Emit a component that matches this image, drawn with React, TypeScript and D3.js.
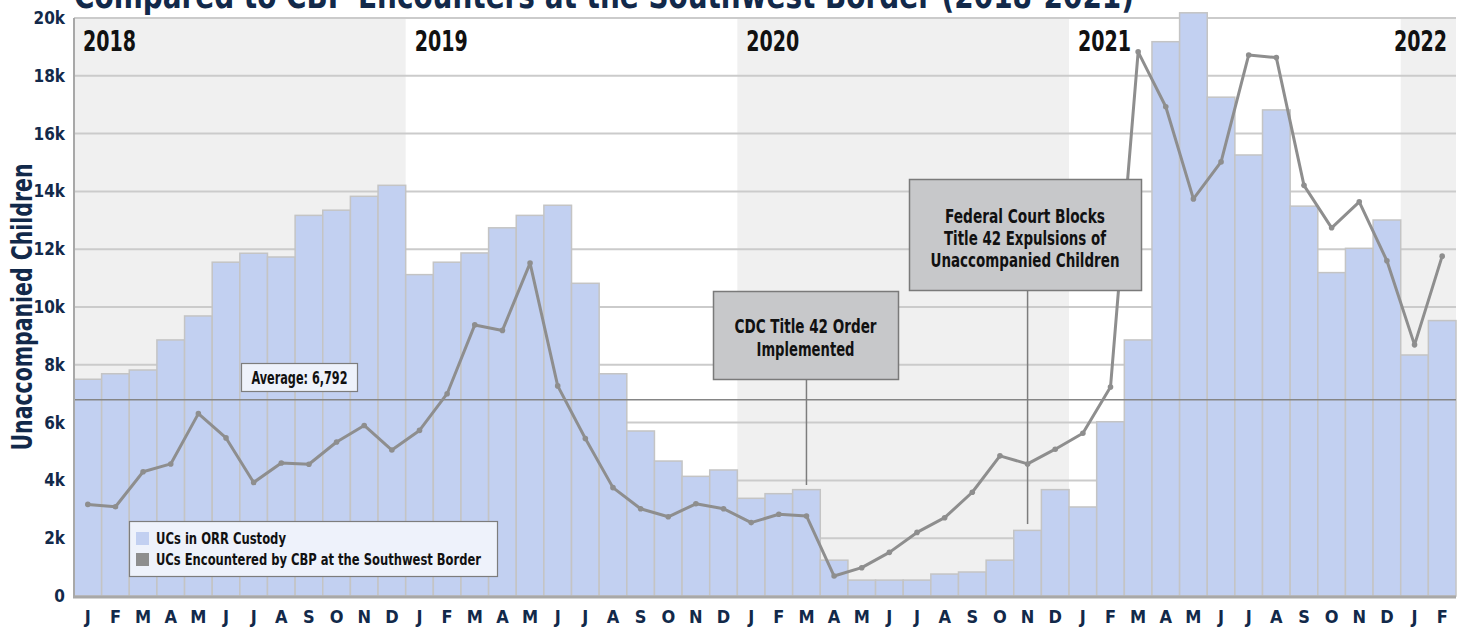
import React from 'react'
import * as d3 from 'd3'

const WIDTH = 1463
const HEIGHT = 627
const PLOT = { left: 74, right: 1456, top: 18, bottom: 596 }

const FONT = "'Liberation Sans Narrow', 'DejaVu Sans Condensed', 'Roboto', sans-serif"
const NAVY = '#12294a'

const years = [2018, 2019, 2020, 2021, 2022]
const monthLetters = ['J', 'F', 'M', 'A', 'M', 'J', 'J', 'A', 'S', 'O', 'N', 'D']

// Jan 2018 .. Feb 2022
const categories = years
  .flatMap(year => monthLetters.map((letter, month) => ({ year, month, letter })))
  .slice(0, 50)

// UCs in ORR custody (bars)
const orrCustody = [
  7500, 7690, 7820, 8860, 9690, 11550, 11860, 11730, 13170, 13350, 13830, 14210,
  11120, 11550, 11870, 12740, 13170, 13520, 10820, 7690, 5710, 4670, 4140, 4360,
  3380, 3540, 3680, 1240, 550, 550, 550, 760, 830, 1240, 2270, 3680,
  3080, 6030, 8860, 19180, 20180, 17260, 15260, 16820, 13490, 11190, 12030, 13010,
  8340, 9530
]

// UCs encountered by CBP at the southwest border (line)
const cbpEncounters = [
  3170, 3090, 4300, 4570, 6310, 5470, 3930, 4600, 4560, 5330, 5900, 5050,
  5730, 7000, 9380, 9190, 11520, 7270, 5450, 3750, 3020, 2740, 3190, 3020,
  2540, 2830, 2770, 690, 980, 1510, 2200, 2710, 3590, 4850, 4570, 5080,
  5630, 7230, 18830, 16930, 13740, 15020, 18720, 18630, 14210, 12740, 13640, 11600,
  8690, 11760
]

const yTicks = [0, 2000, 4000, 6000, 8000, 10000, 12000, 14000, 16000, 18000, 20000]
const average = 6792
const shadedYears = [2018, 2020, 2022]

const legendItems = [
  { label: 'UCs in ORR Custody', color: '#c2d0f1', width: 130 },
  { label: 'UCs Encountered by CBP at the Southwest Border', color: '#8e8e8e', width: 325 }
]

const annotations = [
  {
    index: 26,
    target: 3840,
    box: { x: 713, y: 291, w: 185, h: 88 },
    lines: [
      { text: 'CDC Title 42 Order', width: 142, y: 333 },
      { text: 'Implemented', width: 98, y: 356 }
    ]
  },
  {
    index: 34,
    target: 2490,
    box: { x: 909, y: 179, w: 232, h: 111 },
    lines: [
      { text: 'Federal Court Blocks', width: 160, y: 223 },
      { text: 'Title 42 Expulsions of', width: 162, y: 245 },
      { text: 'Unaccompanied Children', width: 189, y: 267 }
    ]
  }
]

const App = () => {
  const x = d3
    .scaleBand<number>()
    .domain(d3.range(categories.length))
    .range([PLOT.left, PLOT.right])
    .padding(0)
  const y = d3.scaleLinear().domain([0, 20000]).range([PLOT.bottom, PLOT.top])
  const bw = x.bandwidth()
  const cx = (i: number) => (x(i) as number) + bw / 2

  const line = d3
    .line<number>()
    .x((d, i) => cx(i))
    .y(d => y(d))

  const yearStart = (yr: number) => categories.findIndex(c => c.year === yr)
  const yearEnd = (yr: number) => {
    const idx = categories.map(c => c.year).lastIndexOf(yr)
    return (x(idx) as number) + bw
  }

  const avgLabel = `Average: ${d3.format(',')(average)}`

  return (
    <svg
      width={WIDTH}
      height={HEIGHT}
      style={{ position: 'absolute', left: 0, top: 0, background: '#fff' }}
      fontFamily={FONT}
      fontWeight="bold"
    >
      {/* title, cut off at the top of the frame */}
      <text x={74} y={8} fontSize={36} fill={NAVY} textLength={1060} lengthAdjust="spacingAndGlyphs">
        Compared to CBP Encounters at the Southwest Border (2018-2021)
      </text>

      {/* alternating year shading */}
      {shadedYears.map(yr => (
        <rect
          key={yr}
          x={x(yearStart(yr))}
          y={PLOT.top}
          width={yearEnd(yr) - (x(yearStart(yr)) as number)}
          height={PLOT.bottom - PLOT.top}
          fill="#f0f0f0"
        />
      ))}

      {/* gridlines */}
      {yTicks.slice(1).map(t => (
        <line key={t} x1={PLOT.left} x2={PLOT.right} y1={y(t)} y2={y(t)} stroke="#cbcbcb" strokeWidth={2} />
      ))}

      {/* bars */}
      {orrCustody.map((v, i) => (
        <rect
          key={i}
          x={x(i)}
          y={y(v)}
          width={bw}
          height={y(0) - y(v)}
          fill="#c2d0f1"
          stroke="#c4c4c4"
          strokeWidth={1.5}
        />
      ))}

      {/* average line + label */}
      <line x1={PLOT.left} x2={PLOT.right} y1={y(average)} y2={y(average)} stroke="#858585" strokeWidth={1.5} />
      <rect x={241.5} y={363.5} width={116} height={28} fill="#eef2fb" stroke="#7d7d7d" strokeWidth={1.2} />
      <text x={299.5} y={383.5} fontSize={17} textAnchor="middle" fill="#111" textLength={96} lengthAdjust="spacingAndGlyphs">
        {avgLabel}
      </text>

      {/* leader lines */}
      {annotations.map(a => (
        <line
          key={a.index}
          x1={cx(a.index)}
          x2={cx(a.index)}
          y1={a.box.y + a.box.h}
          y2={y(a.target)}
          stroke="#7d7d7d"
          strokeWidth={1.5}
        />
      ))}

      {/* CBP encounters line */}
      <path d={line(cbpEncounters) || ''} fill="none" stroke="#8e8e8e" strokeWidth={3} strokeLinejoin="round" />
      {cbpEncounters.map((v, i) => (
        <circle key={i} cx={cx(i)} cy={y(v)} r={2.8} fill="#8e8e8e" />
      ))}

      {/* annotation boxes */}
      {annotations.map(a => (
        <g key={a.index}>
          <rect
            x={a.box.x + 0.5}
            y={a.box.y + 0.5}
            width={a.box.w}
            height={a.box.h}
            fill="#c7c8ca"
            stroke="#7a7a7a"
            strokeWidth={1.5}
          />
          {a.lines.map(l => (
            <text
              key={l.text}
              x={a.box.x + a.box.w / 2}
              y={l.y}
              fontSize={19}
              textAnchor="middle"
              fill="#111"
              textLength={l.width}
              lengthAdjust="spacingAndGlyphs"
            >
              {l.text}
            </text>
          ))}
        </g>
      ))}

      {/* legend */}
      <g>
        <rect x={129.5} y={521.5} width={368} height={55} fill="#eef2fb" stroke="#7d7d7d" strokeWidth={1.2} />
        {legendItems.map((item, i) => (
          <g key={item.label} transform={`translate(136,${532 + i * 21})`}>
            <rect width={13} height={13} fill={item.color} />
            <text x={20} y={12} fontSize={16} fill="#111" textLength={item.width} lengthAdjust="spacingAndGlyphs">
              {item.label}
            </text>
          </g>
        ))}
      </g>

      {/* axes */}
      <line x1={PLOT.left} x2={PLOT.left} y1={PLOT.top} y2={PLOT.bottom + 1} stroke="#a8a8a8" strokeWidth={2} />
      <line x1={PLOT.left - 1} x2={PLOT.right} y1={PLOT.bottom + 1} y2={PLOT.bottom + 1} stroke="#a8a8a8" strokeWidth={3} />

      {/* y tick labels */}
      {yTicks.map(t => (
        <text key={t} x={65} y={y(t) + 6} fontSize={17} textAnchor="end" fill={NAVY}>
          {t === 0 ? '0' : `${t / 1000}k`}
        </text>
      ))}

      {/* month labels */}
      {categories.map((c, i) => (
        <text key={i} x={cx(i)} y={623} fontSize={18} textAnchor="middle" fill={NAVY}>
          {c.letter}
        </text>
      ))}

      {/* year labels */}
      {years.map(yr => {
        const last = yr === years[years.length - 1]
        return (
          <text
            key={yr}
            x={last ? yearEnd(yr) - 9 : (x(yearStart(yr)) as number) + 9}
            y={51}
            fontSize={28}
            textAnchor={last ? 'end' : 'start'}
            fill="#111"
            textLength={53}
            lengthAdjust="spacingAndGlyphs"
          >
            {yr}
          </text>
        )
      })}

      {/* y axis title */}
      <text
        transform="translate(32,307) rotate(-90)"
        fontSize={28}
        textAnchor="middle"
        fill={NAVY}
        textLength={287}
        lengthAdjust="spacingAndGlyphs"
      >
        Unaccompanied Children
      </text>
    </svg>
  )
}

export default App
